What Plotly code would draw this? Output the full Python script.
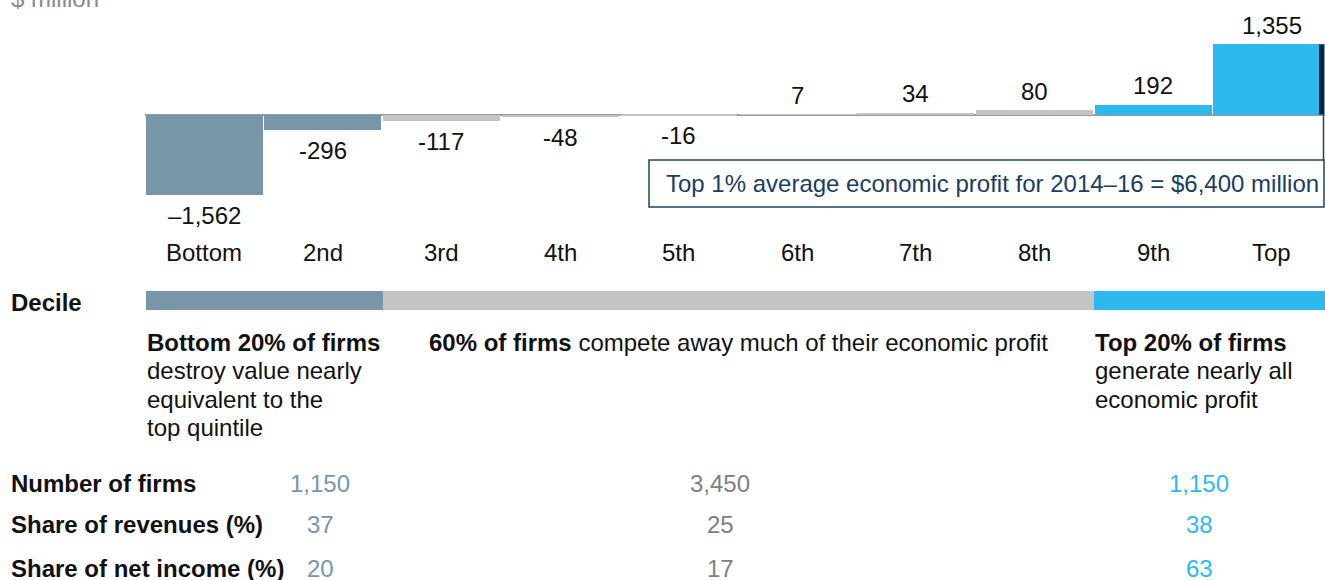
import plotly.graph_objects as go

# canvas in pixels, used only to place text blocks
W, H = 1325, 580

# economic profit by decile, $ million
deciles = ['Bottom', '2nd', '3rd', '4th', '5th', '6th', '7th', '8th', '9th', 'Top']
profit = [-1562, -296, -117, -48, -16, 7, 34, 80, 192, 1355]
profit_labels = ['–1,562', '-296', '-117', '-48', '-16', '7', '34', '80', '192', '1,355']

# three groups of firms
groups = ['Bottom 20%', 'Middle 60%', 'Top 20%']
group_share = [20, 60, 20]
num_firms = [1150, 3450, 1150]
rev_share = [37, 25, 38]
net_income_share = [20, 17, 63]

BLUEGRAY = '#7896a8'
GRAY = '#c4c4c4'
SKY = '#2eb9ec'
NAVY = '#1b3d5e'
group_colors = [BLUEGRAY, GRAY, SKY]
value_colors = [BLUEGRAY, '#808080', SKY]
bar_colors = [BLUEGRAY] * 2 + [GRAY] * 6 + [SKY] * 2

FONT = 'Liberation Sans, Arial, sans-serif'
FS = 24


def px(x):
    return x / W


def py(y):
    return 1 - y / H


fig = go.Figure()

fig.add_trace(go.Bar(
    x=deciles, y=profit,
    marker=dict(color=bar_colors, line=dict(width=0)),
    hoverinfo='x+y', showlegend=False,
    xaxis='x', yaxis='y'
))

# decile band: 20 / 60 / 20 split
for g, s, c in zip(groups, group_share, group_colors):
    fig.add_trace(go.Bar(
        x=[s], y=['Decile'], orientation='h', width=1,
        marker=dict(color=c, line=dict(width=0)),
        name=g, showlegend=False, hoverinfo='name',
        xaxis='x2', yaxis='y2'
    ))

ann = []

# value labels
for d, v, t in zip(deciles, profit, profit_labels):
    ann.append(dict(x=d, y=v, xref='x', yref='y', text=t, showarrow=False,
                    yanchor='middle', yshift=19 if v > 0 else -20.5,
                    font=dict(size=FS, color='#111111', family=FONT)))

# decile names
for d in deciles:
    ann.append(dict(x=d, y=py(253), xref='x', yref='paper', text=d, showarrow=False,
                    yanchor='middle', font=dict(size=FS, color='#111111', family=FONT)))


def txt(x, y, t, color='#111111', anchor='left'):
    ann.append(dict(x=px(x), y=py(y), xref='paper', yref='paper', text=t, showarrow=False,
                    xanchor=anchor, yanchor='middle',
                    font=dict(size=FS, color=color, family=FONT)))


txt(9, -2, '$ million', '#8a8a8a')
txt(9, 302, '<b>Decile</b>')
txt(664, 184, 'Top 1% average economic profit for 2014–16 = $6,400 million', NAVY)

for i, line in enumerate(['<b>Bottom 20% of firms</b>', 'destroy value nearly',
                          'equivalent to the', 'top quintile']):
    txt(145, 342 + i * 28.5, line)
txt(427, 342, '<b>60% of firms</b> compete away much of their economic profit')
for i, line in enumerate(['<b>Top 20% of firms</b>', 'generate nearly all', 'economic profit']):
    txt(1093, 342 + i * 28.5, line)

rows = [('Number of firms', [f'{n:,}' for n in num_firms], 483),
        ('Share of revenues (%)', [str(v) for v in rev_share], 524),
        ('Share of net income (%)', [str(v) for v in net_income_share], 568)]
col_x = [320, 720, 1199]
for label, vals, y in rows:
    txt(9, y, f'<b>{label}</b>')
    for cx, v, c in zip(col_x, vals, value_colors):
        txt(cx, y, v, c, 'center')

shapes = [
    # callout box
    dict(type='rect', xref='paper', yref='paper', x0=px(649), x1=px(1324),
         y0=py(207), y1=py(160), line=dict(color='#1f4466', width=1.5)),
    # dark edge on the top bar and connector down to the box
    dict(type='line', xref='paper', yref='y', x0=px(1321.5), x1=px(1321.5),
         y0=0, y1=profit[-1], line=dict(color='#071e3d', width=5)),
    dict(type='line', xref='paper', yref='paper', x0=px(1323.5), x1=px(1323.5),
         y0=py(114.5), y1=py(160), line=dict(color='#1f4466', width=1.5)),
]

fig.update_layout(
    width=W, height=H,
    margin=dict(l=0, r=0, t=0, b=0),
    paper_bgcolor='white', plot_bgcolor='rgba(0,0,0,0)',
    bargap=0.014, barmode='stack',
    xaxis=dict(domain=[145 / W, 1], range=[-0.5, 9.45], visible=False, fixedrange=True),
    yaxis=dict(domain=[py(240), 1], range=[-2427, 2215], showgrid=False, showticklabels=False,
               zeroline=True, zerolinecolor='#9a9a9a', zerolinewidth=2, fixedrange=True),
    xaxis2=dict(domain=[146 / W, 1], range=[0, 99.5], anchor='y2', visible=False, fixedrange=True),
    yaxis2=dict(domain=[py(310), py(291)], range=[-0.5, 0.5], anchor='x2', visible=False,
                fixedrange=True),
    annotations=ann,
    shapes=shapes,
    font=dict(family=FONT),
)

# the page's default body margin would push the figure off the window
fig.write_html('out.html', config={'displayModeBar': False},
               post_script="document.body.style.margin='0';document.body.style.overflow='hidden';")
